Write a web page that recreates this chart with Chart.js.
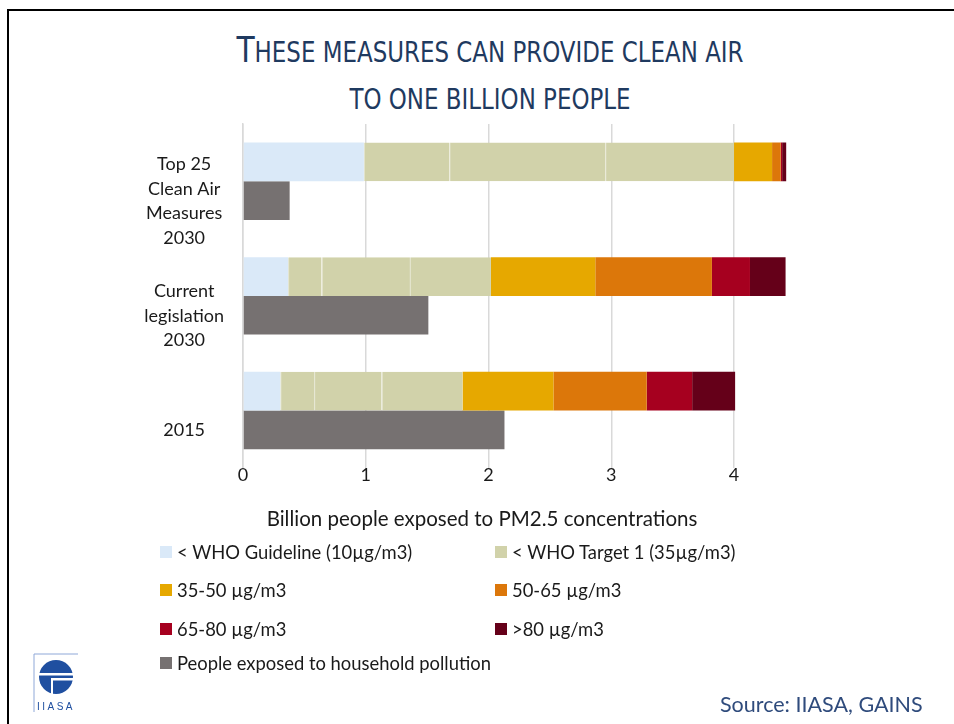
<!DOCTYPE html>
<html>
<head>
<meta charset="utf-8">
<script src="https://cdn.jsdelivr.net/npm/chart.js@4/dist/chart.umd.min.js"></script>
<style>
  html, body { margin: 0; padding: 0; background: #fff; }
  body { width: 954px; height: 724px; position: relative; overflow: hidden; font-family: Lato, "Noto Sans", sans-serif; }
  #frame { position: absolute; left: 7px; top: 9px; width: 960px; height: 730px; border-top: 2px solid #000; border-left: 2px solid #000; }
  #title { position: absolute; left: 0; top: 26px; width: 980px; text-align: center; color: #1F3A60;
           font-family: "Liberation Sans Narrow", "DejaVu Sans Condensed", sans-serif; text-transform: uppercase;
           font-size: 25.5px; line-height: 43.5px; transform: scaleY(1.08); transform-origin: 50% 0; }
  #title .big { font-size: 33px; }
  #wrap { position: absolute; left: 10px; top: 120px; width: 944px; height: 420px; }
  #legend { position: absolute; left: 0; top: 0; width: 954px; height: 724px; pointer-events: none; }
  .li { position: absolute; display: flex; align-items: center; font-size: 18.4px; color: #1a1a1a; white-space: nowrap; }
  .li span.box { width: 12px; height: 12px; margin-right: 5px; display: inline-block; }
  #source { position: absolute; left: 720px; top: 691px; font-size: 21.5px; color: #2F4B7C; font-family: Lato, sans-serif; }
  #logo { position: absolute; left: 32px; top: 652px; }
</style>
</head>
<body>
<div id="frame"></div>
<div id="title"><span class="big">T</span>hese measures can provide clean air<br>to one billion people</div>
<div id="wrap"><canvas id="c"></canvas></div>
<div id="legend"></div>
<div id="source">Source: IIASA, GAINS</div>
<svg id="logo" width="48" height="62" viewBox="0 0 48 62">
  <path d="M2 60 V2 H46" fill="none" stroke="#8FA8D8" stroke-width="1"/>
  <circle cx="24" cy="25" r="17" fill="#1F4FA0"/>
  <rect x="5" y="21" width="38" height="2.5" fill="#fff"/>
  <rect x="20" y="26" width="24" height="2.5" fill="#fff"/>
  <path d="M20 26 V42" stroke="#fff" stroke-width="2"/>
  <text x="24" y="58" text-anchor="middle" font-size="10" fill="#1F4FA0" font-family="Liberation Sans Narrow, sans-serif" letter-spacing="2.5">IIASA</text>
</svg>
<script>
// ---- data ----
const categories = [["Top 25", "Clean Air", "Measures", "2030"], ["Current", "legislation", "2030"], ["2015"]];
const whoGuideline = [0.985, 0.367, 0.303];
const whoTarget3 = [0.695, 0.273, 0.276];
const whoTarget2 = [1.27, 0.72, 0.55];
const whoTarget1 = [1.05, 0.66, 0.66];
const pm35to50 = [0.31, 0.85, 0.74];
const pm50to65 = [0.07, 0.95, 0.76];
const pm65to80 = [0.012, 0.31, 0.37];
const pmAbove80 = [0.033, 0.29, 0.35];
const household = [0.38, 1.51, 2.13];
const xTicks = [0, 1, 2, 3, 4];

const olive = '#D1D2AA';
const seg = (label, data, color, inLegend, extra) => Object.assign({
  label, data, backgroundColor: color, stack: 'pm', borderWidth: 0, inLegend
}, extra || {});
const oliveBorder = { borderWidth: { left: 1, right: 0, top: 0, bottom: 0 }, borderColor: '#E2E3CC', borderSkipped: false };

const datasets = [
  seg('< WHO Guideline (10µg/m3)', whoGuideline, '#DAE9F8', true),
  seg('< WHO Target 3 (15µg/m3)', whoTarget3, olive, false, oliveBorder),
  seg('< WHO Target 2 (25µg/m3)', whoTarget2, olive, false, oliveBorder),
  seg('< WHO Target 1 (35µg/m3)', whoTarget1, olive, true, oliveBorder),
  seg('35-50 µg/m3', pm35to50, '#E6A800', true),
  seg('50-65 µg/m3', pm50to65, '#DC770A', true),
  seg('65-80 µg/m3', pm65to80, '#A6001F', true),
  seg('>80 µg/m3', pmAbove80, '#650019', true),
  { label: 'People exposed to household pollution', data: household, backgroundColor: '#767171', stack: 'hh', borderWidth: 0, inLegend: true }
];

const chart = new Chart(document.getElementById('c'), {
  type: 'bar',
  data: { labels: categories, datasets },
  options: {
    indexAxis: 'y',
    responsive: true,
    maintainAspectRatio: false,
    animation: false,
    categoryPercentage: 0.675,
    barPercentage: 1.0,
    layout: { padding: { left: 131.6, right: 131.6, top: 4, bottom: 8 } },
    plugins: {
      legend: { display: false },
      tooltip: { enabled: false },
      title: {
        display: true, position: 'bottom', text: 'Billion people exposed to PM2.5 concentrations',
        color: '#1a1a1a', font: { family: 'Lato', size: 20.5, weight: 'normal' }, padding: { top: 24, bottom: 0 }
      }
    },
    scales: {
      x: {
        stacked: true, min: 0, max: 4.72,
        afterBuildTicks: (s) => { s.ticks = xTicks.map(v => ({ value: v })); },
        ticks: { color: '#1a1a1a', font: { family: 'Lato', size: 18 }, padding: -3 },
        grid: { color: '#D9D9D9', lineWidth: 1.5, drawTicks: false },
        border: { display: false }
      },
      y: {
        stacked: true,
        afterFit: (s) => { s.width = 101.4; s.paddingTop = 0; s.paddingBottom = 0; },
        ticks: { color: '#1a1a1a', font: { family: 'Lato', size: 18, lineHeight: 1.36 }, padding: 19, crossAlign: 'center', labelOffset: 20 },
        grid: { display: false, drawTicks: false },
        border: { display: true, color: '#D9D9D9', width: 1.5 }
      }
    }
  }
});

// HTML legend built from the chart's datasets
const colX = [160, 495];
const rowY = [552, 590, 629, 663];
const legendEl = document.getElementById('legend');
chart.data.datasets.filter(d => d.inLegend).forEach((d, i) => {
  const el = document.createElement('div');
  el.className = 'li';
  el.style.left = colX[i % 2] + 'px';
  el.style.top = (rowY[Math.floor(i / 2)] - 11) + 'px';
  el.style.height = '22px';
  el.innerHTML = '<span class="box" style="background:' + d.backgroundColor + '"></span>';
  el.appendChild(document.createTextNode(d.label));
  legendEl.appendChild(el);
});
</script>
</body>
</html>
